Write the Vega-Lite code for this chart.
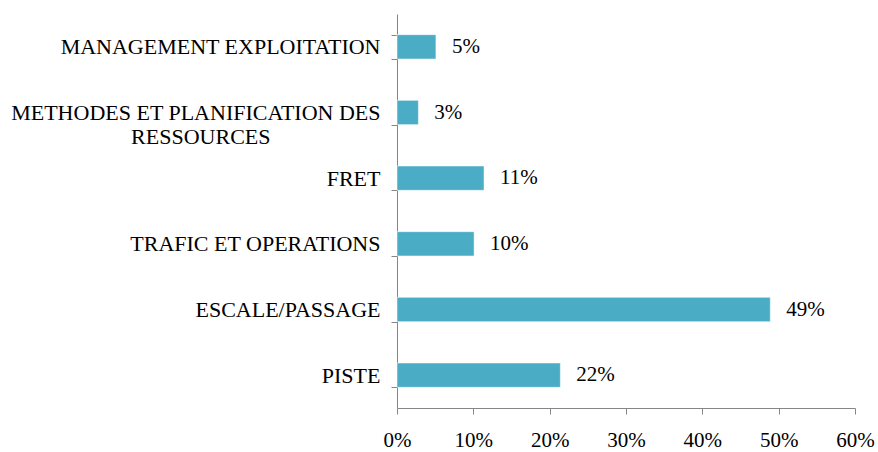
{
  "$schema": "https://vega.github.io/schema/vega-lite/v6.json",
  "width": 458,
  "height": 394,
  "autosize": "none",
  "padding": {"left": 397, "top": 14, "right": 23, "bottom": 44},
  "background": "white",
  "config": {"view": {"stroke": null}, "font": "Liberation Serif"},
  "data": {
    "values": [
      {"cat": "MANAGEMENT EXPLOITATION", "v": 0.051, "label": "5%"},
      {"cat": "METHODES ET PLANIFICATION DES RESSOURCES", "v": 0.028, "label": "3%"},
      {"cat": "FRET", "v": 0.114, "label": "11%"},
      {"cat": "TRAFIC ET OPERATIONS", "v": 0.101, "label": "10%"},
      {"cat": "ESCALE/PASSAGE", "v": 0.489, "label": "49%"},
      {"cat": "PISTE", "v": 0.214, "label": "22%"}
    ]
  },
  "encoding": {
    "y": {
      "field": "cat",
      "type": "nominal",
      "sort": null,
      "title": null,
      "scale": {"paddingInner": 0.63, "paddingOuter": 0.315},
      "axis": {
        "domainColor": "#868686",
        "tickColor": "#868686",
        "tickSize": 6,
        "tickBand": "extent",
        "labelPadding": 11,
        "labelFont": "Liberation Serif",
        "labelFontSize": 22,
        "labelColor": "#000000",
        "labelLimit": 500,
        "labelLineHeight": 24,
        "labelExpr": "datum.label == 'METHODES ET PLANIFICATION DES RESSOURCES' ? ['METHODES ET PLANIFICATION DES', 'RESSOURCES\u00a0\u00a0\u00a0\u00a0\u00a0\u00a0\u00a0\u00a0\u00a0\u00a0\u00a0\u00a0\u00a0\u00a0\u00a0\u00a0\u00a0\u00a0\u00a0\u00a0\u2060'] : datum.label"
      }
    }
  },
  "layer": [
    {
      "mark": {"type": "bar", "color": "#4BACC6", "stroke": "#ffffff", "strokeWidth": 0.5},
      "encoding": {
        "x": {
          "field": "v",
          "type": "quantitative",
          "title": null,
          "scale": {"domain": [0, 0.6], "nice": false},
          "axis": {
            "values": [0, 0.1, 0.2, 0.3, 0.4, 0.5, 0.6],
            "format": ".0%",
            "grid": false,
            "domainColor": "#868686",
            "tickColor": "#868686",
            "tickSize": 6,
            "labelPadding": 15,
            "labelFont": "Liberation Serif",
            "labelFontSize": 21,
            "labelColor": "#000000",
            "labelFlush": false
          }
        }
      }
    },
    {
      "mark": {"type": "text", "align": "left", "baseline": "middle", "dx": 16, "fontSize": 21, "font": "Liberation Serif", "color": "#000000"},
      "encoding": {
        "x": {"field": "v", "type": "quantitative"},
        "text": {"field": "label"}
      }
    }
  ]
}
